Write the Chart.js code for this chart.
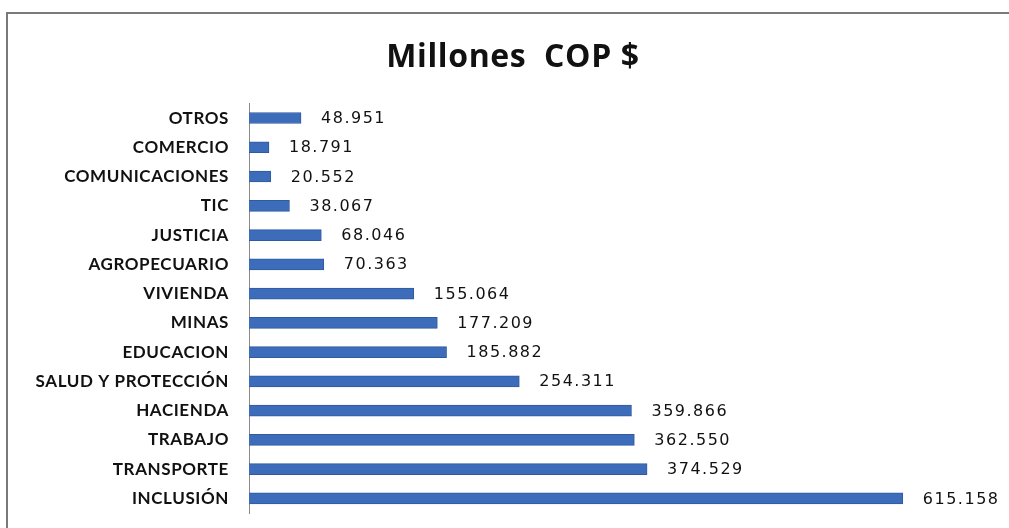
<!DOCTYPE html>
<html>
<head>
<meta charset="utf-8">
<script src="https://cdn.jsdelivr.net/npm/chart.js"></script>
<style>
  html, body { margin: 0; padding: 0; background: #fff; }
  #wrap { position: relative; width: 1009px; height: 528px; overflow: hidden; }
  #frame { position: absolute; left: 6px; top: 12px; width: 1020px; height: 540px;
           border-left: 2px solid #7a7a7a; border-top: 2px solid #7a7a7a; }
  canvas { position: absolute; left: 0; top: 0; }
</style>
</head>
<body>
<div id="wrap">
  <div id="frame"></div>
  <canvas id="mychart" width="1009" height="528"></canvas>
</div>
<script>
// datos (millones COP $)
const categorias = ["OTROS", "COMERCIO", "COMUNICACIONES", "TIC", "JUSTICIA", "AGROPECUARIO",
  "VIVIENDA", "MINAS", "EDUCACION", "SALUD Y PROTECCIÓN", "HACIENDA", "TRABAJO",
  "TRANSPORTE", "INCLUSIÓN"];
const valores = [48951, 18791, 20552, 38067, 68046, 70363, 155064, 177209, 185882,
  254311, 359866, 362550, 374529, 615158];
const titulo = "Millones  COP $";

const fmt = (v) => v.toLocaleString("de-DE");

// espaciado de letras para todo el texto del canvas
const espaciado = {
  id: "espaciado",
  beforeDraw(chart) { chart.ctx.letterSpacing = "0.6px"; },
};

// etiquetas de valor a la derecha de cada barra
const etiquetas = {
  id: "etiquetas",
  afterDatasetsDraw(chart) {
    const c = chart.ctx;
    const meta = chart.getDatasetMeta(0);
    c.save();
    c.font = "16px 'DejaVu Sans'";
    c.letterSpacing = "1.5px";
    c.fillStyle = "#111";
    c.textBaseline = "middle";
    meta.data.forEach((bar, i) => {
      c.fillText(fmt(valores[i]), bar.x + 20, bar.y + 1);
    });
    c.restore();
  },
};

const ctx = document.getElementById("mychart");

new Chart(ctx, {
  type: "bar",
  data: {
    labels: categorias,
    datasets: [
      {
        data: valores,
        backgroundColor: "#3d6cbb",
        borderColor: "#2f5a9e",
        borderWidth: 1,
        barThickness: 11,
      },
    ],
  },
  options: {
    indexAxis: "y",
    responsive: false,
    maintainAspectRatio: false,
    animation: false,
    layout: { padding: { left: 33, right: 16, top: 35, bottom: 15 } },
    plugins: {
      legend: { display: false },
      tooltip: { enabled: false },
      title: {
        display: true,
        text: titulo,
        color: "#111",
        font: { family: "Open Sans", size: 32, weight: "bold" },
        padding: { top: 4, bottom: 26 },
      },
    },
    scales: {
      x: { display: false, min: 0, max: 700000 },
      y: {
        afterFit(s) {
          s.width = 216;
          s.paddingTop = 0;
          s.paddingBottom = 0;
        },
        grid: { display: false, drawTicks: false },
        border: { display: true, color: "#8a8a8a", width: 1 },
        ticks: {
          padding: 20,
          color: "#111",
          font: { family: "Lato", size: 17, weight: "bold" },
        },
      },
    },
  },
  plugins: [espaciado, etiquetas],
});
</script>
</body>
</html>
